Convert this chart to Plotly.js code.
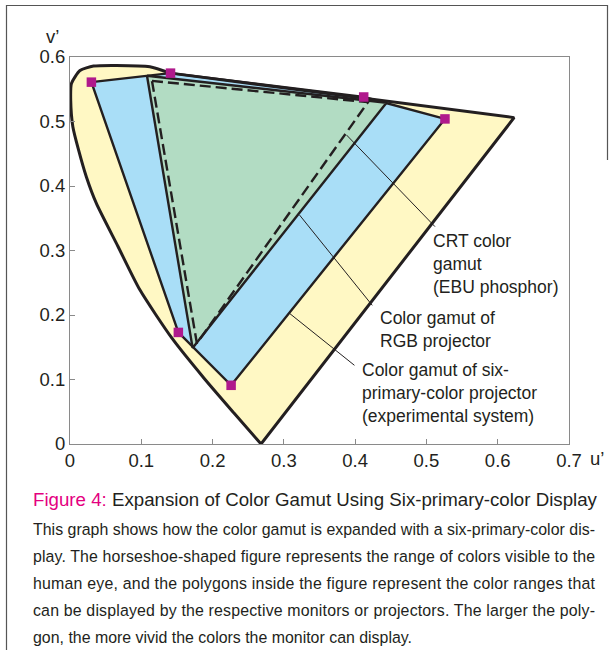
<!DOCTYPE html>
<html>
<head>
<meta charset="utf-8">
<script src="https://cdn.plot.ly/plotly-3.0.1.min.js"></script>
<style>html,body{margin:0;padding:0;background:#fff;}#chart{width:614px;height:650px;}</style>
</head>
<body>
<div id="chart"></div>
<script>
// ---- data (u', v') ----
// spectral locus, curved part from the violet end up and over to the green corner
const locusU = [0.268, 0.230, 0.188, 0.143, 0.098, 0.067, 0.037, 0.023, 0.012, 0.004, 0.001, 0.002, 0.014, 0.033, 0.065, 0.112, 0.141];
const locusV = [0.000, 0.048, 0.102, 0.164, 0.239, 0.307, 0.373, 0.414, 0.456, 0.492, 0.533, 0.559, 0.579, 0.586, 0.587, 0.585, 0.575];
// red end of the locus
const redEndU = [0.623];
const redEndV = [0.506];
// six-primary-color projector primaries
const sixU = [0.030, 0.141, 0.412, 0.526, 0.226, 0.152];
const sixV = [0.561, 0.575, 0.538, 0.504, 0.091, 0.173];
// RGB projector gamut
const rgbU = [0.108, 0.444, 0.172];
const rgbV = [0.571, 0.529, 0.149];
// CRT (EBU phosphor) gamut
const crtU = [0.115, 0.418, 0.178];
const crtV = [0.563, 0.530, 0.156];
// leader lines [start, end]
const leadCrtU = [0.388, 0.512], leadCrtV = [0.479, 0.337];
const leadRgbU = [0.322, 0.424], leadRgbV = [0.355, 0.215];
const leadSixU = [0.308, 0.399], leadSixV = [0.2025, 0.122];
// ticks
const xTicks = [0, 0.1, 0.2, 0.3, 0.4, 0.5, 0.6, 0.7];
const xTickText = ['0', '0.1', '0.2', '0.3', '0.4', '0.5', '0.6', '0.7'];
const yTicks = [0, 0.1, 0.2, 0.3, 0.4, 0.5, 0.6];
const yTickText = ['0', '0.1', '0.2', '0.3', '0.4', '0.5', '0.6'];
// texts
const labelCrt = 'CRT color<br>gamut<br>(EBU phosphor)';
const labelRgb = 'Color gamut of<br>RGB projector';
const labelSix = 'Color gamut of six-<br>primary-color projector<br>(experimental system)';
const figNo = 'Figure 4:';
const figTitle = 'Expansion of Color Gamut Using Six-primary-color Display';
const bodyLines = [
  'This graph shows how the color gamut is expanded with a six-primary-color dis-',
  'play. The horseshoe-shaped figure represents the range of colors visible to the',
  'human eye, and the polygons inside the figure represent the color ranges that',
  'can be displayed by the respective monitors or projectors. The larger the poly-',
  'gon, the more vivid the colors the monitor can display.'
];

// ---- styling ----
const INK = '#231f20';
const YELLOW = '#fff8c4';
const BLUE = '#a9def7';
const GREEN = '#b2dcc3';
const MAGENTA = '#b0198c';
const SANS = 'Liberation Sans, Arial, Helvetica, sans-serif';

const W = 614, H = 650, ML = 70, MR = 45, MT = 57, MB = 206;
const PW = W - ML - MR, PH = H - MT - MB;
const px = x => (x - ML) / PW;
const py = y => (H - MB - y) / PH;
const COL = 562;

function closed(a) { return a.concat([a[0]]); }

const traces = [
  { x: locusU.concat(redEndU), y: locusV.concat(redEndV), type: 'scatter', mode: 'lines',
    fill: 'toself', fillcolor: YELLOW, line: { width: 0, color: YELLOW, shape: 'spline', smoothing: 0.6 }, hoverinfo: 'skip' },
  { x: closed(sixU), y: closed(sixV), type: 'scatter', mode: 'lines', fill: 'toself', fillcolor: BLUE,
    line: { width: 2.4, color: INK }, hoverinfo: 'skip' },
  { x: closed(rgbU), y: closed(rgbV), type: 'scatter', mode: 'lines', fill: 'toself', fillcolor: GREEN,
    line: { width: 2.4, color: INK }, hoverinfo: 'skip' },
  { x: closed(crtU), y: closed(crtV), type: 'scatter', mode: 'lines',
    line: { width: 2.4, color: INK, dash: '11px,5px' }, hoverinfo: 'skip' },
  { x: locusU, y: locusV, type: 'scatter', mode: 'lines', line: { width: 3, color: INK, shape: 'spline', smoothing: 0.6 }, hoverinfo: 'skip' },
  { x: [locusU[locusU.length - 1], redEndU[0], locusU[0]], y: [locusV[locusV.length - 1], redEndV[0], locusV[0]],
    type: 'scatter', mode: 'lines', line: { width: 3, color: INK }, hoverinfo: 'skip' },
  { x: leadCrtU, y: leadCrtV, type: 'scatter', mode: 'lines', line: { width: 1, color: INK }, hoverinfo: 'skip' },
  { x: leadRgbU, y: leadRgbV, type: 'scatter', mode: 'lines', line: { width: 1, color: INK }, hoverinfo: 'skip' },
  { x: leadSixU, y: leadSixV, type: 'scatter', mode: 'lines', line: { width: 1, color: INK }, hoverinfo: 'skip' },
  { x: sixU, y: sixV, type: 'scatter', mode: 'markers', marker: { symbol: 'square', size: 9.5, color: MAGENTA, line: { width: 0 } }, hoverinfo: 'skip' }
];

const labelFont = { family: SANS, size: 17.5, color: INK };
const annotations = [
  { xref: 'x', yref: 'y', x: 0.506, y: 0.279, text: labelCrt, showarrow: false, xanchor: 'left', yanchor: 'middle', align: 'left', font: labelFont },
  { xref: 'x', yref: 'y', x: 0.432, y: 0.178, text: labelRgb, showarrow: false, xanchor: 'left', yanchor: 'middle', align: 'left', font: labelFont },
  { xref: 'x', yref: 'y', x: 0.407, y: 0.0785, text: labelSix, showarrow: false, xanchor: 'left', yanchor: 'middle', align: 'left', font: labelFont },
  { xref: 'paper', yref: 'paper', x: px(52), y: py(37), text: 'v’', showarrow: false, xanchor: 'center', yanchor: 'middle', font: { family: SANS, size: 18.5, color: INK } },
  { xref: 'paper', yref: 'paper', x: px(597), y: py(458), text: 'u’', showarrow: false, xanchor: 'center', yanchor: 'middle', font: { family: SANS, size: 18.5, color: INK } }
];
const TITLE_IDX = annotations.length;
annotations.push({ xref: 'paper', yref: 'paper', x: px(32), y: py(499), text: '<span style="color:#e4007f">' + figNo + '</span> ' + figTitle,
  showarrow: false, xanchor: 'left', yanchor: 'middle', align: 'left', borderpad: 0,
  font: { family: SANS, size: 20, color: INK } });
const BODY_IDX = annotations.length;
const bodyY = [529, 556, 583, 610, 637];
bodyLines.forEach((t, i) => annotations.push({ xref: 'paper', yref: 'paper', x: px(32), y: py(bodyY[i]), text: t,
  showarrow: false, xanchor: 'left', yanchor: 'middle', align: 'left', borderpad: 0,
  font: { family: SANS, size: 17, color: INK } }));

const axisCommon = {
  ticks: 'inside', ticklen: 5, tickwidth: 1, tickcolor: '#8a8a8a',
  showline: true, linecolor: '#8a8a8a', linewidth: 1, mirror: true,
  showgrid: false, zeroline: false, fixedrange: true,
  tickfont: { family: SANS, size: 18.5, color: INK }
};

const layout = {
  width: W, height: H,
  margin: { l: ML, r: MR, t: MT, b: MB, pad: 0 },
  paper_bgcolor: '#ffffff', plot_bgcolor: '#ffffff',
  showlegend: false,
  xaxis: Object.assign({}, axisCommon, { range: [0, 0.7], tickmode: 'array', tickvals: xTicks, ticktext: xTickText }),
  yaxis: Object.assign({}, axisCommon, { range: [0, 0.6], tickmode: 'array', tickvals: yTicks, ticktext: yTickText }),
  annotations: annotations,
  shapes: [
    { type: 'path', xref: 'paper', yref: 'paper',
      path: `M ${px(6.5)} ${py(700)} L ${px(6.5)} ${py(5.5)} L ${px(607.5)} ${py(5.5)} L ${px(607.5)} ${py(160)}`,
      line: { color: '#555', width: 1.2 } }
  ]
};

const norm = s => s.replace(/\s+/g, ' ').trim();
function findNode(s) {
  return Array.from(document.querySelectorAll('text.annotation-text')).find(n => norm(n.textContent) === s);
}

// shrink caption fonts so every line fits the text column
function sizeCaption(gd) {
  const upd = {};
  const t = findNode(figNo + ' ' + figTitle);
  if (t) upd[`annotations[${TITLE_IDX}].font.size`] = +(20 * (COL + 2) / t.getComputedTextLength()).toFixed(2);
  let maxW = 0;
  bodyLines.forEach(s => { const n = findNode(s); if (n) maxW = Math.max(maxW, n.getComputedTextLength()); });
  if (maxW > 0) {
    const sz = +(17 * (COL - 1) / maxW).toFixed(2);
    bodyLines.forEach((s, i) => { upd[`annotations[${BODY_IDX + i}].font.size`] = sz; });
  }
  return Plotly.relayout(gd, upd);
}
// justify the full lines of the paragraph
function justify() {
  bodyLines.forEach((s, i) => {
    if (i === bodyLines.length - 1) return;
    const n = findNode(s);
    if (n) { n.setAttribute('textLength', COL); n.setAttribute('lengthAdjust', 'spacing'); }
  });
}

Plotly.newPlot('chart', traces, layout, { staticPlot: true, displayModeBar: false })
  .then(sizeCaption).then(justify);
</script>
</body>
</html>
